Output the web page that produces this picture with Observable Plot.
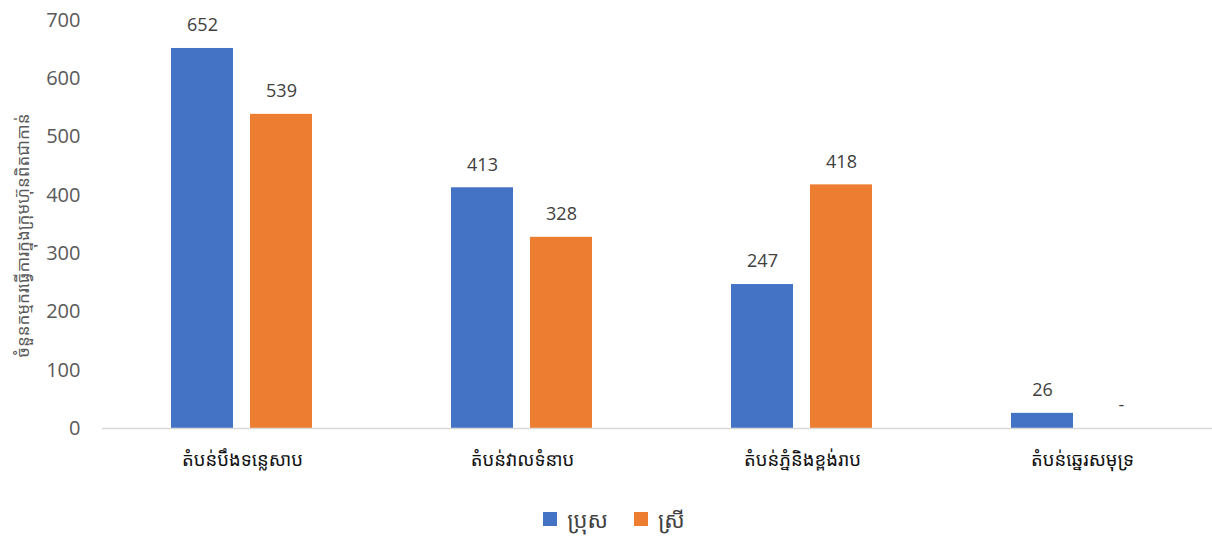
<!DOCTYPE html>
<html>
<head>
<meta charset="utf-8">
<script src="https://cdn.jsdelivr.net/npm/d3@7"></script>
<script src="https://cdn.jsdelivr.net/npm/@observablehq/plot@0.6"></script>
<style>
  body { margin: 0; background: #fff; font-family: "Noto Sans Khmer", "Khmer OS", "Open Sans", "Noto Sans", sans-serif; }
  #chart { width: 1212px; }
  .legend { display: flex; justify-content: center; align-items: center; gap: 26px; height: 46px; margin-left: 16px; margin-top: 6px; font-size: 22px; color: #404040; }
  .legend span.item { display: flex; align-items: center; gap: 10px; }
  .legend span.sw { width: 14px; height: 14px; display: inline-block; }
</style>
</head>
<body>
<div id="chart"></div>
<script>
const categories = ["តំបន់បឹងទន្លេសាប", "តំបន់វាលទំនាប", "តំបន់ភ្នំនិងខ្ពង់រាប", "តំបន់ឆ្នេរសមុទ្រ"];
const series = ["ប្រុស", "ស្រី"];
const maleValues = [652, 413, 247, 26];
const femaleValues = [539, 328, 418, null];
const colors = ["#4472C4", "#ED7D31"];
const yTicks = [0, 100, 200, 300, 400, 500, 600, 700];
const yTitle = "ចំនួនកម្មករធ្វើការក្នុងក្រុមហ៊ុនពិតជាកាន់";

const data = [];
categories.forEach((c, i) => {
  data.push({category: c, sex: series[0], value: maleValues[i]});
  data.push({category: c, sex: series[1], value: femaleValues[i]});
});

const chart = Plot.plot({
  width: 1212,
  height: 490,
  marginLeft: 100,
  marginRight: -11,
  marginTop: 20,
  marginBottom: 62,
  style: {fontFamily: "'Open Sans', Carlito, Calibri, sans-serif", background: "#fff"},
  fx: {domain: categories, padding: 0, label: null},
  x: {domain: series, paddingInner: 0.2125, paddingOuter: 0.8625, axis: null},
  y: {domain: [0, 700], label: null},
  color: {domain: series, range: colors},
  marks: [
    Plot.axisY({ticks: yTicks, tickSize: 0, tickPadding: 22, fontSize: 20, fill: "#595959",
      label: yTitle, labelAnchor: "center", labelArrow: "none", labelOffset: 86}),
    Plot.axisFx({anchor: "bottom", tickSize: 0, tickPadding: 24, fontSize: 18.5, fill: "#111",
      fontFamily: "'Noto Sans Khmer', 'Khmer OS', sans-serif", label: null}),
    Plot.barY(data, {fx: "category", x: "sex", y: d => d.value ?? 0, fill: "sex"}),
    Plot.ruleY([0], {stroke: "#d9d9d9", strokeWidth: 1.5}),
    Plot.text(data, {fx: "category", x: "sex", y: d => d.value ?? 0,
      text: d => d.value == null ? "-" : String(d.value),
      dy: -23, fontSize: 18, fill: "#404040", lineAnchor: "middle"})
  ]
});
document.getElementById("chart").appendChild(chart);

// y-axis title styling
chart.querySelectorAll("text").forEach(t => {
  if (t.textContent === yTitle) {
    t.setAttribute("font-size", "17");
    t.style.fontFamily = "'Noto Sans Khmer','Khmer OS',sans-serif";
    t.setAttribute("fill", "#595959");
    const tr = t.getAttribute("transform");
    if (tr) t.setAttribute("transform", tr.replace(/translate\(([^,]+),([^)]+)\)/, (m, a, b) => `translate(${a},${+b + 11})`));
  }
});

const legend = document.createElement("div");
legend.className = "legend";
series.forEach((s, i) => {
  const item = document.createElement("span");
  item.className = "item";
  const sw = document.createElement("span");
  sw.className = "sw";
  sw.style.background = colors[i];
  const lab = document.createElement("span");
  lab.textContent = s;
  item.appendChild(sw);
  item.appendChild(lab);
  legend.appendChild(item);
});
document.body.appendChild(legend);
</script>
</body>
</html>
